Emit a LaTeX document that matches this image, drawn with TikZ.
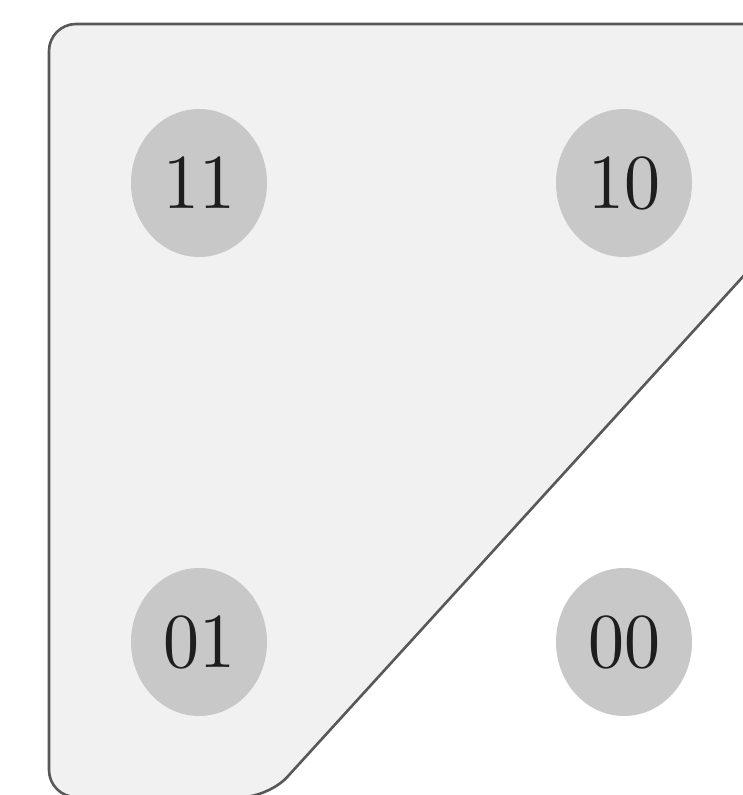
\documentclass[tikz,border=0pt]{standalone}
\usepackage{fontspec}
\newfontfamily\digitfont{lmroman10-regular.otf}
\definecolor{regionfill}{HTML}{F1F1F1}
\definecolor{regionline}{HTML}{585858}
\definecolor{dotfill}{HTML}{C8C8C8}
\definecolor{dottext}{HTML}{1E1E1E}
\tikzset{
  region/.style={fill=regionfill, draw=regionline, line width=2.6pt, rounded corners=27pt},
  dot/.style={ellipse, fill=dotfill, minimum width=136pt, minimum height=148pt, inner sep=0pt,
    text=dottext, font=\digitfont\fontsize{72}{80}\selectfont},
}
\usetikzlibrary{shapes.geometric}
\begin{document}
\begin{tikzpicture}[x=1pt,y=-1pt]
\useasboundingbox (0,0) rectangle (743,795);
\clip (0,0) rectangle (743,795);
\draw[region] (860,24) -- (49,24) -- (49,797) -- (269,797) -- (855,153.6) -- cycle;
\node[dot] (n11) at (199,183) {\scalebox{1}[1.08]{11}};
\node[dot] (n10) at (624,183) {\scalebox{1}[1.08]{10}};
\node[dot] (n01) at (199,642) {\scalebox{1}[1.08]{01}};
\node[dot] (n00) at (624,642) {\scalebox{1}[1.08]{00}};
\end{tikzpicture}
\end{document}
